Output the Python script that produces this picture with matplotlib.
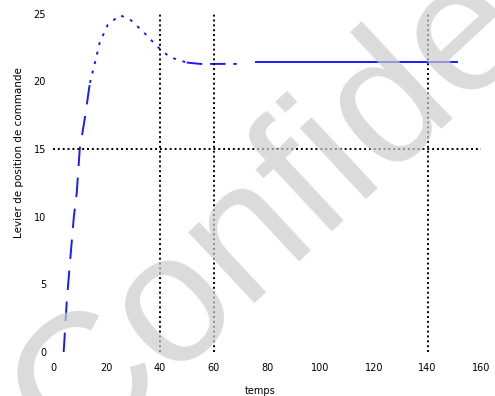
import matplotlib.pyplot as plt

# response of the command over time
t_rise = [4.0, 5.2, 7.8, 8.9, 10.0, 12.0, 13.8]
v_rise = [0.0, 3.9, 10.0, 11.8, 15.0, 17.4, 19.9]

t_over = [13.8, 15.7, 17.5, 20.5, 25.0, 28.7, 33.6, 37.0, 40.0, 43.7, 50.0]
v_over = [19.9, 21.4, 22.9, 24.2, 24.9, 24.6, 23.7, 23.0, 22.4, 21.8, 21.4]

t_settle = [50.0, 55.0, 68.7]
v_settle = [21.4, 21.3, 21.3]

t_hold = [76.0, 151.0]
v_hold = [21.45, 21.45]

x_marks = [40, 60, 140]
y_mark = 15

xticks = [0, 20, 40, 60, 80, 100, 120, 140, 160]
yticks = [0, 5, 10, 15, 20, 25]

fig = plt.figure(figsize=(4.95, 3.96), dpi=100)
ax = fig.add_axes([0.107, 0.111, 0.865, 0.854])

blue = '#1a1aff'
ax.plot(t_rise, v_rise, color=blue, lw=1.4, linestyle=(0, (10, 6)))
ax.plot(t_over, v_over, color=blue, lw=1.4, linestyle=(0, (1.5, 3.5)))
ax.plot(t_settle, v_settle, color=blue, lw=1.4, linestyle=(0, (8, 4)))
ax.plot(t_hold, v_hold, color=blue, lw=1.4)

for xm in x_marks:
    ax.axvline(xm, color='k', lw=1.4, linestyle=(0, (1, 1.5)))
ax.axhline(y_mark, color='k', lw=1.4, linestyle=(0, (1, 1.5)))

ax.set_xlim(0, 160)
ax.set_ylim(0, 25)
ax.set_xticks(xticks)
ax.set_yticks(yticks)
ax.tick_params(length=0, labelsize=7)
ax.tick_params(axis='x', pad=8)
ax.tick_params(axis='y', pad=5)
for s in ax.spines.values():
    s.set_visible(False)

ax.set_xlabel('temps', fontsize=7)
ax.xaxis.set_label_coords(0.485, -0.1)
ax.set_ylabel('Levier de position de commande', fontsize=7.5)
ax.yaxis.set_label_coords(-0.068, 0.59)

# watermark, semi-transparent over the plot
fig.text(0.147, -0.172, 'Confidential', fontsize=132, family='Liberation Sans',
         color='#cccccc', alpha=0.7, rotation=43, ha='left', va='baseline',
         rotation_mode='anchor', zorder=10)

fig.savefig('out.png', dpi=100)
